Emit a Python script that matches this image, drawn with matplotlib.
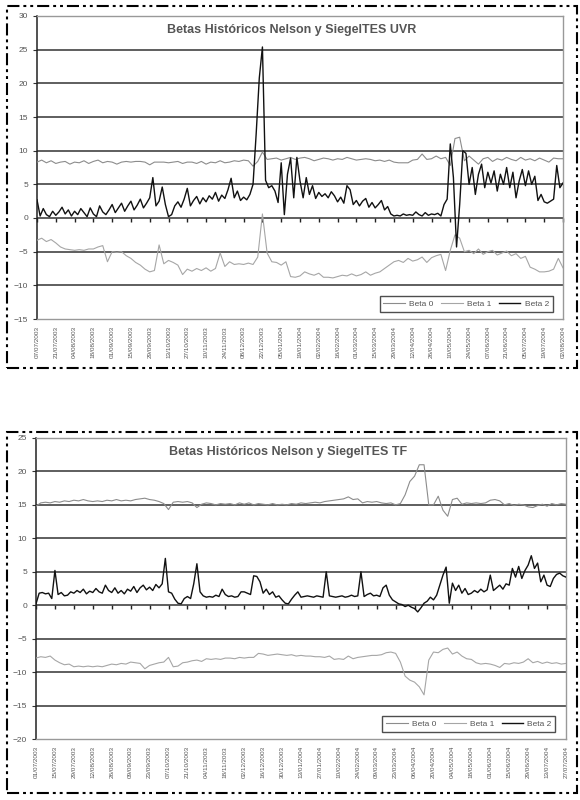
import numpy as np
import matplotlib
matplotlib.use("Agg")
import matplotlib.pyplot as plt
from matplotlib.patches import Rectangle

plt.rcParams['font.family'] = ['Liberation Sans', 'DejaVu Sans']

# fechas del eje x (cada dos semanas)
fechas_uvr = ["07/07/2003", "21/07/2003", "04/08/2003", "18/08/2003", "01/09/2003",
              "15/09/2003", "29/09/2003", "13/10/2003", "27/10/2003", "10/11/2003",
              "24/11/2003", "08/12/2003", "22/12/2003", "05/01/2004", "19/01/2004",
              "02/02/2004", "16/02/2004", "01/03/2004", "15/03/2004", "29/03/2004",
              "12/04/2004", "26/04/2004", "10/05/2004", "24/05/2004", "07/06/2004",
              "21/06/2004", "05/07/2004", "19/07/2004", "02/08/2004"]
fechas_tf = ["01/07/2003", "15/07/2003", "29/07/2003", "12/08/2003", "26/08/2003",
             "09/09/2003", "23/09/2003", "07/10/2003", "21/10/2003", "04/11/2003",
             "18/11/2003", "02/12/2003", "16/12/2003", "30/12/2003", "13/01/2004",
             "27/01/2004", "10/02/2004", "24/02/2004", "09/03/2004", "23/03/2004",
             "06/04/2004", "20/04/2004", "04/05/2004", "18/05/2004", "01/06/2004",
             "15/06/2004", "29/06/2004", "13/07/2004", "27/07/2004"]

# TES UVR
uvr_beta0 = [8.3, 8.6, 8.2, 8.5, 8.1,
             8.3, 8.4, 8.0, 8.3, 8.2, 8.5, 8.1, 8.4,
             8.6, 8.2, 8.4, 8.3, 8.0, 8.3, 8.4, 8.3,
             8.4, 8.4, 8.3, 7.9, 8.3, 8.3, 8.3, 8.2, 8.3, 8.4,
             8.1, 8.3, 8.3, 8.1, 8.4, 8.0, 8.3, 8.2, 8.5, 8.2,
             8.3, 8.5, 8.4, 8.6, 8.5, 7.7, 8.4,
             9.8, 8.7, 8.8, 8.9, 8.6,
             8.8, 9.0, 8.7, 8.9, 9.0, 8.8, 8.5, 8.7,
             8.9, 8.8, 8.6, 8.8, 8.7, 9.0, 8.8, 8.6, 8.7, 8.8,
             8.7, 8.5, 8.6, 8.4, 8.6, 8.3, 8.2, 8.2, 8.2, 8.6,
             8.7, 9.5, 8.7, 8.8, 9.2, 8.8,
             9.0, 7.8, 11.8, 12.0,
             8.5, 9.2, 8.6, 8.0, 8.8, 9.0, 8.4, 8.8, 8.6, 9.0,
             8.7, 8.5, 9.0, 8.6, 8.8, 8.5, 8.9, 8.6, 8.3, 8.9, 8.8, 8.8]
uvr_beta1 = [-3.3, -3.0, -3.5, -3.2, -3.7, -4.3, -4.6, -4.7, -4.8, -4.7,
             -4.8, -4.6, -4.6, -4.3, -4.1, -6.5, -5.0, -5.1, -5.0, -5.6,
             -6.0, -6.6, -7.0, -7.6, -8.0, -7.8, -4.0, -6.8, -6.3, -6.6,
             -7.0, -8.4, -7.6, -7.9, -7.5, -7.8, -7.4, -7.9, -7.5, -5.2,
             -7.2, -6.5, -6.9, -6.8, -6.9, -6.7, -6.9, -5.8, 0.6, -5.2,
             -6.5, -6.6, -7.0, -6.5, -8.7, -8.8, -8.6, -8.0, -8.3, -8.5,
             -8.2, -8.8, -8.8, -8.9, -8.7, -8.5, -8.6, -8.3, -8.6, -8.4,
             -8.0, -8.5, -8.2, -8.0, -7.5, -7.0, -6.5, -6.3, -6.6, -6.0,
             -6.4, -6.2, -5.8, -6.6, -5.9, -5.6, -5.4, -7.8, -4.8, -2.5,
             -3.0, -5.0, -4.8, -5.3, -4.6, -5.4, -5.0, -4.8, -5.5, -5.2,
             -4.9, -5.6, -5.3, -6.0, -5.7, -7.3, -7.6, -8.0, -8.0, -7.9,
             -7.6, -6.0, -7.4]
uvr_beta2 = [2.7, 0.3, 1.4, 0.5, 0.2, 1.0,
             0.4, 0.9, 1.6, 0.6, 1.2, 0.3,
             1.0, 0.5, 1.4, 0.8, 0.2, 1.5,
             0.6, 0.2, 1.8, 0.9, 0.5, 1.2,
             2.0, 0.8, 1.5, 2.2, 1.0, 1.8,
             2.5, 1.2, 1.9, 2.8, 1.5, 2.2,
             3.0, 6.0, 1.8, 2.5, 4.6, 2.0,
             0.2, 0.5, 1.8, 2.4, 1.6, 2.8,
             4.4, 1.8, 2.6, 3.2, 2.1, 3.0,
             2.4, 3.3, 2.8, 3.8, 2.5, 3.4,
             2.9, 4.2, 5.9, 3.0, 4.0, 2.6,
             3.1, 2.7, 3.5, 5.0, 12.5, 20.8,
             25.4, 5.6, 4.5, 4.8, 4.0, 2.3,
             8.2, 0.5, 6.5, 8.9, 3.0, 9.0,
             5.5, 3.0, 6.0, 3.5, 4.8, 2.9,
             3.8, 3.2, 3.6, 3.0, 3.9, 3.3,
             2.4, 3.1, 2.2, 4.8, 4.2, 2.0,
             2.6, 1.8, 2.5, 2.9, 1.6, 2.3,
             1.5, 2.0, 2.6, 1.2, 1.7, 0.6,
             0.3, 0.4, 0.3, 0.6, 0.4, 0.5,
             0.4, 0.9, 0.5, 0.3, 0.8, 0.4,
             0.6, 0.5, 0.7, 0.3, 2.0, 2.8,
             11.0, 6.0, -4.3, 2.0, 10.0, 9.6,
             5.0, 7.5, 3.5, 6.5, 8.0, 4.5,
             6.8, 5.2, 7.0, 4.0, 6.5, 5.0,
             7.5, 4.5, 6.8, 3.0, 5.5, 7.2,
             4.8, 7.0, 5.0, 6.2, 2.6, 3.5,
             2.4, 2.2, 2.5, 2.8, 7.8, 4.5,
             5.2]

# TES TF
tf_beta0 = [14.8, 15.3, 15.4, 15.3, 15.5, 15.4, 15.6, 15.5, 15.7, 15.6,
            15.8, 15.6, 15.5, 15.6, 15.5, 15.7, 15.6, 15.8, 15.6, 15.7,
            15.6, 15.8, 15.9, 16.0, 15.8, 15.7, 15.5, 15.2, 14.3, 15.4,
            15.5, 15.4, 15.5, 15.3, 14.6, 15.1, 15.3, 15.2, 15.0, 15.2,
            15.1, 15.2, 15.0, 15.3, 15.1, 15.3, 15.0, 15.2, 15.1, 15.0,
            15.2, 15.0, 15.1, 15.0, 15.2, 15.1, 15.3, 15.2, 15.3, 15.4,
            15.3, 15.5, 15.6, 15.7, 15.8, 15.9, 16.2, 15.8, 15.9, 15.3,
            15.5, 15.4, 15.5, 15.3, 15.2, 15.3, 15.0, 15.2, 16.5, 18.5,
            19.3, 21.0, 21.0, 15.0, 15.0, 16.3, 14.2, 13.3, 15.8, 16.0,
            15.1, 15.3, 15.2, 15.3, 15.2, 15.3, 15.7, 15.8, 15.6, 15.0,
            15.2, 14.9, 15.1, 15.0, 14.7, 14.6, 14.9, 15.1, 14.8, 15.2,
            15.0, 15.2, 15.1]
tf_beta1 = [-7.9, -7.7, -7.8, -7.6, -8.2, -8.6, -8.9, -8.8, -9.2, -9.1,
            -9.2, -9.1, -9.2, -9.1, -9.2, -9.0, -8.8, -8.9, -8.7, -8.8,
            -8.5, -8.6, -8.7, -9.5, -9.0, -8.8, -8.6, -8.5, -7.8, -9.2,
            -9.1, -8.6, -8.5, -8.3, -8.2, -8.4, -8.0, -8.1, -8.0, -8.1,
            -7.9, -7.9, -8.0, -7.8, -7.9, -7.8, -7.8, -7.2, -7.3, -7.5,
            -7.4, -7.3, -7.4, -7.5, -7.4, -7.6, -7.5, -7.6, -7.6, -7.7,
            -7.7, -7.8, -7.6, -8.1, -8.0, -8.1, -7.6, -8.0, -7.8, -7.7,
            -7.6, -7.5, -7.5, -7.4, -7.1, -7.0, -7.2, -8.5, -10.6, -11.2,
            -11.5, -12.2, -13.4, -8.2, -7.0, -7.1, -6.6, -6.4, -7.3, -7.0,
            -7.6, -8.0, -8.1, -8.6, -8.8, -8.7, -8.8, -9.0, -9.3, -8.7,
            -8.8, -8.6, -8.7, -8.5, -8.0, -8.6, -8.4, -8.7, -8.5, -8.7,
            -8.6, -8.8, -8.7]
tf_beta2 = [0.2, 1.8, 1.9, 1.7, 1.8, 1.0,
            5.2, 1.6, 1.9, 1.4, 1.5, 2.0,
            1.8, 2.2, 1.9, 2.4, 1.7, 2.1,
            1.9, 2.5, 2.0, 1.8, 3.0, 2.2,
            1.9, 2.6, 1.8, 2.2, 1.7, 2.4,
            2.1, 2.8, 1.9, 2.6, 3.0, 2.3,
            2.7, 2.2, 3.1, 2.6, 3.2, 7.0,
            2.0, 1.8, 0.9, 0.3, 0.2, 1.0,
            1.3, 1.0, 3.2, 6.2, 2.0, 1.4,
            1.2, 1.3, 1.2, 1.5, 1.3, 2.4,
            1.6, 1.3, 1.4, 1.2, 1.3, 2.0,
            2.0, 1.8, 1.6, 4.4, 4.3, 3.5,
            1.8, 2.4, 1.6, 2.0, 1.2, 1.4,
            0.8, 0.3, 0.2, 0.9, 1.5, 2.0,
            1.2, 1.3, 1.4, 1.3, 1.2, 1.4,
            1.3, 1.2, 5.0, 1.4, 1.3, 1.2,
            1.3, 1.4, 1.2, 1.3, 1.5, 1.3,
            1.4, 5.0, 1.3, 1.6, 1.8, 1.4,
            1.5, 1.3, 2.6, 3.0, 1.5, 0.8,
            0.5, 0.2, 0.1, -0.2, 0.0, -0.3,
            -0.5, -1.0, -0.4, 0.3, 0.6, 1.2,
            0.8, 1.5, 3.0, 4.5, 5.7, 0.3,
            3.3, 2.2, 3.0, 1.8, 2.5, 1.6,
            1.8, 2.2, 1.9, 2.4, 2.0, 2.3,
            4.5, 2.2, 2.6, 3.0, 2.4, 3.2,
            3.0, 5.5, 4.2, 5.8, 4.0, 5.2,
            6.0, 7.4, 5.5, 6.3, 3.5, 4.5,
            3.0, 2.8, 4.0, 4.6, 4.8, 4.4,
            4.2]

gris_txt = "#555555"


def dibujar(ax, b0, b1, b2, fechas, titulo, ymin, ymax, tit_x):
    n = len(fechas) - 1
    ax.plot(np.linspace(0, n, len(b0)), b0, color="#8c8c8c", lw=0.8, label="Beta 0", zorder=3)
    ax.plot(np.linspace(0, n, len(b1)), b1, color="#a6a6a6", lw=0.8, label="Beta 1", zorder=3)
    ax.plot(np.linspace(0, n, len(b2)), b2, color="#111111", lw=1.0, label="Beta 2", zorder=4)

    ax.set_xlim(0, n)
    ax.set_ylim(ymin, ymax)
    yt = list(range(ymin, ymax + 1, 5))
    ax.set_yticks(yt)
    for v in yt[1:-1]:
        ax.axhline(v, color="#333333", lw=1.1, zorder=1)

    ax.set_xticks(range(len(fechas)))
    ax.set_xticklabels(fechas, rotation=90, fontsize=4.6, color=gris_txt)
    ax.tick_params(axis="x", length=0, pad=5)
    ax.tick_params(axis="y", length=3, labelsize=6, labelcolor=gris_txt, color="#333333")

    # marcas del eje de categorias sobre la linea del cero
    sec = ax.secondary_xaxis(-ymin / (ymax - ymin))
    sec.set_alignment("bottom")
    sec.set_xticks(range(len(fechas)))
    sec.set_xticklabels([])
    sec.tick_params(axis="x", direction="out", length=3, color="#222222", width=1.0)
    for s in sec.spines.values():
        s.set_visible(False)

    for s in ["top", "right", "bottom"]:
        ax.spines[s].set_color("#999999")
        ax.spines[s].set_linewidth(1.0)
    ax.spines["left"].set_color("#222222")
    ax.spines["left"].set_linewidth(1.1)

    ax.text(tit_x, 0.955, titulo, transform=ax.transAxes, ha="center", va="center",
            fontsize=9, color=gris_txt, fontweight="bold")

    leg = ax.legend(ncol=3, loc="lower right", bbox_to_anchor=(0.988, 0.01),
                    fontsize=6, frameon=True, fancybox=False, handlelength=2.6,
                    columnspacing=0.9, handletextpad=0.5, borderpad=0.45)
    leg.get_frame().set_edgecolor("#222222")
    leg.get_frame().set_linewidth(1.0)
    for t in leg.get_texts():
        t.set_color(gris_txt)


fig = plt.figure(figsize=(5.8, 8), dpi=100)

ax1 = fig.add_axes([37 / 580, 1 - 319 / 800, 526 / 580, 303 / 800])
dibujar(ax1, uvr_beta0, uvr_beta1, uvr_beta2, fechas_uvr,
        "Betas Históricos Nelson y SiegelTES UVR", -15, 30, 0.485)

ax2 = fig.add_axes([36 / 580, 1 - 739 / 800, 530 / 580, 301 / 800])
dibujar(ax2, tf_beta0, tf_beta1, tf_beta2, fechas_tf,
        "Betas Históricos Nelson y SiegelTES TF", -20, 25, 0.476)

# marcos punteados de cada grafico
estilo = (0, (5.8, 1.9, 1.4, 1.9, 1.4, 1.9))
for y0, y1 in [(6, 368), (432, 793)]:
    fig.patches.append(Rectangle((7 / 580, 1 - y1 / 800), 570 / 580, (y1 - y0) / 800,
                                 transform=fig.transFigure, fill=False,
                                 edgecolor="black", lw=1.5, linestyle=estilo))

fig.savefig("out.png", dpi=100, facecolor="white")
